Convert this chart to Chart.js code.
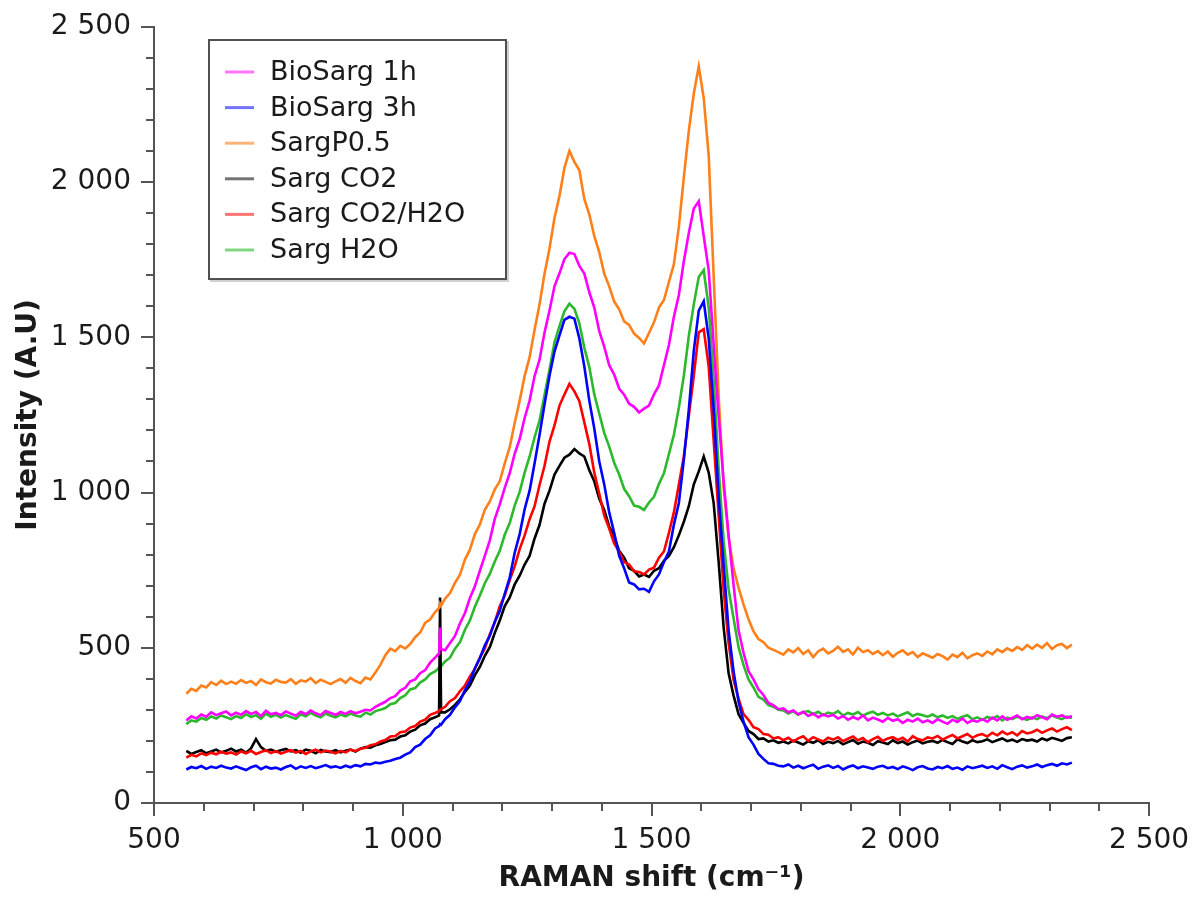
<!DOCTYPE html>
<html>
<head>
<meta charset="utf-8">
<script src="https://cdn.jsdelivr.net/npm/chart.js@4.4.1/dist/chart.umd.min.js"></script>
<style>
html,body{margin:0;padding:0;background:#ffffff;}
#wrap{position:relative;width:1204px;height:899px;}
</style>
</head>
<body>
<div id="wrap"><canvas id="c" width="1204" height="899"></canvas></div>
<script>
// ---- DATA ----
const ramanShift = [
 565,575,585,595,605,615,625,635,645,655,
 665,675,685,695,705,715,725,735,745,755,
 765,775,785,795,805,815,825,835,845,855,
 865,875,885,895,905,915,925,935,945,955,
 965,975,985,995,1005,1015,1025,1035,1045,1055,
 1065,1073,1075,1077,1085,1095,1105,1115,1125,1135,1145,1155,
 1165,1175,1185,1195,1205,1215,1225,1235,1245,1255,
 1265,1275,1285,1295,1305,1315,1325,1335,1345,1355,
 1365,1375,1385,1395,1405,1415,1425,1435,1445,1455,
 1465,1475,1485,1495,1505,1515,1525,1535,1545,1555,
 1565,1575,1585,1595,1605,1615,1625,1635,1645,1655,
 1665,1675,1685,1695,1705,1715,1725,1735,1745,1755,
 1765,1775,1785,1795,1805,1815,1825,1835,1845,1855,
 1865,1875,1885,1895,1905,1915,1925,1935,1945,1955,
 1965,1975,1985,1995,2005,2015,2025,2035,2045,2055,
 2065,2075,2085,2095,2105,2115,2125,2135,2145,2155,
 2165,2175,2185,2195,2205,2215,2225,2235,2245,2255,
 2265,2275,2285,2295,2305,2315,2325,2335,2345
];

const bioSarg1h = [
 266,279,272,285,278,292,283,289,295,282,
 291,284,296,287,293,280,297,286,290,283,
 295,288,281,294,286,298,289,283,296,290,
 284,293,287,296,289,294,300,298,310,318,
 326,338,344,362,371,392,398,418,428,452,
 468,482,565,495,492,515,538,578,612,660,698,748,
 796,846,915,962,1015,1062,1125,1172,1240,1296,
 1375,1428,1515,1586,1664,1706,1752,1772,1768,1730,
 1705,1645,1596,1520,1470,1410,1380,1335,1315,1286,
 1276,1258,1270,1280,1316,1345,1410,1475,1566,1636,
 1745,1836,1915,1938,1826,1715,1476,1245,1036,862,
 702,556,484,425,398,366,348,322,315,302,
 305,292,298,286,294,280,288,276,285,279,
 284,272,280,268,277,270,282,266,275,269,
 262,274,265,270,258,268,262,272,260,266,
 258,270,262,255,268,261,272,258,266,262,
 270,262,275,266,279,268,274,282,270,277,
 272,283,276,270,285,278,282,274,280
];

const bioSarg3h = [
 108,116,112,119,110,117,113,120,114,111,
 118,112,106,115,120,109,117,111,114,108,
 116,121,110,118,113,119,112,117,122,115,
 118,113,120,115,122,118,126,124,130,128,
 133,136,142,146,156,163,180,188,206,218,
 240,248,254,252,270,284,308,328,364,392,434,466,
 508,538,584,618,674,726,806,866,946,1006,
 1094,1186,1284,1376,1454,1506,1556,1566,1560,1496,
 1406,1296,1206,1100,1026,936,870,796,756,710,
 704,688,690,680,714,736,776,810,896,966,
 1106,1266,1456,1586,1616,1496,1266,986,766,556,
 424,326,262,212,188,158,142,128,126,120,
 118,124,114,120,112,118,123,110,117,121,
 113,119,108,116,121,112,118,114,110,117,
 120,112,116,109,118,113,106,115,119,111,
 108,116,112,119,110,114,107,118,112,116,
 120,113,118,110,122,115,109,117,121,114,
 118,124,116,122,126,120,128,124,130
];

const sargP05 = [
 352,368,361,378,372,389,380,394,383,391,
 384,396,387,393,380,398,389,385,397,390,
 388,399,384,395,391,402,386,397,390,383,
 392,399,387,403,393,386,404,398,420,445,
 476,497,489,506,498,512,534,549,580,591,
 615,628,642,636,658,676,709,735,784,816,866,897,
 944,971,1010,1036,1094,1146,1224,1296,1375,1436,
 1524,1606,1705,1786,1884,1955,2046,2100,2065,2038,
 1945,1896,1826,1774,1705,1664,1615,1590,1551,1540,
 1512,1498,1480,1514,1548,1596,1620,1678,1735,1856,
 2015,2165,2285,2372,2270,2085,1695,1310,1015,855,
 755,694,640,592,553,528,518,500,493,486,
 478,495,485,499,480,492,470,488,497,482,
 490,503,487,495,478,500,486,492,480,489,
 476,488,471,484,492,478,486,470,482,475,
 468,480,473,462,478,470,484,466,476,482,
 474,488,479,495,486,498,490,502,493,508,
 497,510,500,515,496,508,512,499,510
];

const sargCO2 = [
 168,158,164,170,160,166,172,163,168,175,
 166,172,162,176,206,180,168,172,165,170,
 174,166,170,162,172,168,160,171,166,164,
 170,163,168,172,166,175,180,178,186,190,
 196,202,204,214,218,230,236,250,256,270,
 276,282,662,292,292,302,316,334,358,378,412,438,
 474,502,548,588,634,662,704,732,768,796,
 852,896,964,1006,1058,1086,1112,1122,1140,1126,
 1116,1072,1036,980,944,890,858,812,790,756,
 748,730,736,728,748,756,780,796,824,862,
 906,956,1026,1068,1116,1064,966,776,566,418,
 346,286,258,232,222,206,208,198,202,194,
 198,192,201,195,188,199,194,202,190,197,
 193,200,189,196,203,191,198,194,187,199,
 195,190,202,193,198,188,196,201,192,197,
 200,194,203,196,190,205,198,193,202,196,
 199,205,196,202,208,199,204,197,206,201,
 204,198,208,202,210,205,200,209,212
];

const sargCO2H2O = [
 146,155,150,160,154,162,157,165,159,163,
 156,166,160,168,158,164,170,161,167,159,
 165,170,162,168,158,166,172,163,169,165,
 160,168,163,172,167,175,178,186,189,198,
 203,214,216,228,230,243,248,262,268,284,
 290,296,300,302,310,328,338,360,378,408,432,468,
 498,544,582,634,668,718,762,818,862,914,
 956,1024,1086,1164,1216,1280,1316,1350,1326,1294,
 1226,1156,1064,996,926,884,836,810,776,768,
 746,744,736,752,758,790,810,870,936,1026,
 1116,1246,1376,1516,1526,1406,1166,926,686,516,
 396,336,286,268,244,238,222,220,208,212,
 202,210,198,208,215,200,212,205,198,210,
 204,212,199,207,214,202,209,196,206,213,
 200,208,212,203,210,198,215,206,202,211,
 208,216,204,212,219,208,215,222,210,218,
 222,214,226,218,230,221,228,218,232,224,
 228,236,226,234,240,230,238,244,235
];

const sargH2O = [
 254,266,262,274,268,279,272,282,276,270,
 280,274,286,277,283,271,288,278,284,275,
 283,277,271,286,279,290,282,276,288,281,
 276,285,279,288,282,278,291,285,296,300,
 306,318,322,338,347,366,370,388,398,415,
 424,436,442,440,456,468,497,518,558,588,632,668,
 708,738,778,812,864,902,958,1002,1064,1116,
 1178,1232,1314,1396,1484,1536,1584,1608,1592,1545,
 1466,1404,1316,1254,1192,1148,1096,1058,1012,988,
 958,954,944,968,986,1028,1062,1124,1186,1274,
 1376,1504,1606,1694,1716,1596,1364,1076,844,688,
 594,502,444,398,372,342,333,315,310,300,
 298,288,295,284,292,296,286,294,283,291,
 287,296,282,290,285,293,281,289,294,284,
 290,282,288,279,286,292,280,287,283,278,
 285,276,282,274,280,271,278,283,270,276,
 268,277,272,280,266,275,270,278,273,268,
 276,270,279,273,282,275,270,278,274
];

const seriesNames = ['BioSarg 1h','BioSarg 3h','SargP0.5','Sarg CO2','Sarg CO2/H2O','Sarg H2O'];
const xTickValues = [500,1000,1500,2000,2500];
const xTickLabels = ['500','1 000','1 500','2 000','2 500'];
const yTickValues = [0,500,1000,1500,2000,2500];
const yTickLabels = ['0','500','1 000','1 500','2 000','2 500'];
const xMinorTicks = [600,700,800,900,1100,1200,1300,1400,1600,1700,1800,1900,2100,2200,2300,2400];
const yMinorTicks = [100,200,300,400,600,700,800,900,1100,1200,1300,1400,1600,1700,1800,1900,2100,2200,2300,2400];

// ---- STYLE ----
const lineColors = ['#ff00ff','#0000ff','#ff7f1a','#000000','#ff0000','#2db82d'];
const legendColors = ['rgba(255,0,255,0.55)','rgba(0,0,255,0.55)','rgba(255,127,26,0.6)','rgba(0,0,0,0.55)','rgba(255,0,0,0.55)','rgba(45,184,45,0.6)'];
const drawOrder = [0,2,1,4,3,5];
const AXIS_COLOR = '#555555';
const TEXT_COLOR = '#1a1a1a';
const FONT = 'DejaVu Sans';

const allSeries = [bioSarg1h, bioSarg3h, sargP05, sargCO2, sargCO2H2O, sargH2O];
const datasets = allSeries.map((arr, i) => ({
  label: seriesNames[i],
  data: ramanShift.map((x, j) => ({x: x, y: arr[j]})),
  borderColor: lineColors[i],
  backgroundColor: lineColors[i],
  borderWidth: 2.6,
  borderJoinStyle: 'miter',
  pointRadius: 0,
  tension: 0,
  fill: false,
  order: drawOrder[i]
}));

const minorTicksPlugin = {
  id: 'minorTicks',
  afterDraw(chart) {
    const ctx = chart.ctx;
    const xs = chart.scales.x, ys = chart.scales.y;
    const a = chart.chartArea;
    ctx.save();
    ctx.strokeStyle = AXIS_COLOR;
    ctx.lineWidth = 2;
    ctx.beginPath();
    xMinorTicks.forEach(v => {
      const px = Math.round(xs.getPixelForValue(v));
      ctx.moveTo(px, a.bottom);
      ctx.lineTo(px, a.bottom + 8);
    });
    yMinorTicks.forEach(v => {
      const py = Math.round(ys.getPixelForValue(v));
      ctx.moveTo(a.left - 8, py);
      ctx.lineTo(a.left, py);
    });
    ctx.stroke();
    ctx.restore();
  }
};

const boxLegendPlugin = {
  id: 'boxLegend',
  afterDraw(chart) {
    const ctx = chart.ctx;
    const bx = 209, by = 40, bw = 297, bh = 239;
    ctx.save();
    ctx.strokeStyle = 'rgba(0,0,0,0.18)';
    ctx.lineWidth = 2;
    ctx.strokeRect(bx + 2, by + 2, bw, bh);
    ctx.fillStyle = '#ffffff';
    ctx.fillRect(bx, by, bw, bh);
    ctx.strokeStyle = '#505050';
    ctx.lineWidth = 2;
    ctx.strokeRect(bx, by, bw, bh);
    ctx.font = '27px "' + FONT + '"';
    ctx.textBaseline = 'middle';
    ctx.textAlign = 'left';
    seriesNames.forEach((name, i) => {
      const y = 72 + i * 35.6;
      ctx.strokeStyle = legendColors[i];
      ctx.lineWidth = 3;
      ctx.beginPath();
      ctx.moveTo(225, y);
      ctx.lineTo(254, y);
      ctx.stroke();
      ctx.fillStyle = TEXT_COLOR;
      ctx.fillText(name, 270, y + 1);
    });
    ctx.restore();
  }
};

function lookup(values, labels, v) {
  const k = values.indexOf(v);
  return k >= 0 ? labels[k] : '';
}

new Chart(document.getElementById('c'), {
  type: 'line',
  data: { datasets: datasets },
  plugins: [minorTicksPlugin, boxLegendPlugin],
  options: {
    responsive: false,
    animation: false,
    devicePixelRatio: 1,
    layout: { padding: { left: 0, right: 55, top: 25, bottom: 0 } },
    plugins: { legend: { display: false }, tooltip: { enabled: false } },
    scales: {
      x: {
        type: 'linear',
        position: 'bottom',
        min: 500, max: 2500,
        afterBuildTicks: s => { s.ticks = xTickValues.map(v => ({value: v})); },
        afterFit: s => { s.height = 96; },
        ticks: {
          autoSkip: false, maxRotation: 0,
          color: TEXT_COLOR,
          font: { family: FONT, size: 28 },
          padding: 8,
          callback: v => lookup(xTickValues, xTickLabels, v)
        },
        grid: { display: true, drawOnChartArea: false, drawTicks: true, tickLength: 13, color: AXIS_COLOR, lineWidth: 2 },
        border: { display: true, color: AXIS_COLOR, width: 2 },
        title: {
          display: true, text: 'RAMAN shift (cm\u207B\u00B9)',
          color: TEXT_COLOR,
          font: { family: FONT, size: 28, weight: 'bold' },
          padding: { top: 0, bottom: 3 }
        }
      },
      y: {
        type: 'linear',
        min: 0, max: 2500,
        afterBuildTicks: s => { s.ticks = yTickValues.map(v => ({value: v})); },
        afterFit: s => { s.width = 154; },
        ticks: {
          autoSkip: false,
          color: TEXT_COLOR,
          font: { family: FONT, size: 28 },
          padding: 10,
          callback: v => lookup(yTickValues, yTickLabels, v)
        },
        grid: { display: true, drawOnChartArea: false, drawTicks: true, tickLength: 13, color: AXIS_COLOR, lineWidth: 2 },
        border: { display: true, color: AXIS_COLOR, width: 2 },
        title: {
          display: true, text: 'Intensity (A.U)',
          color: TEXT_COLOR,
          font: { family: FONT, size: 28, weight: 'bold' },
          padding: { top: 12, bottom: 0 }
        }
      }
    }
  }
});
</script>
</body>
</html>
